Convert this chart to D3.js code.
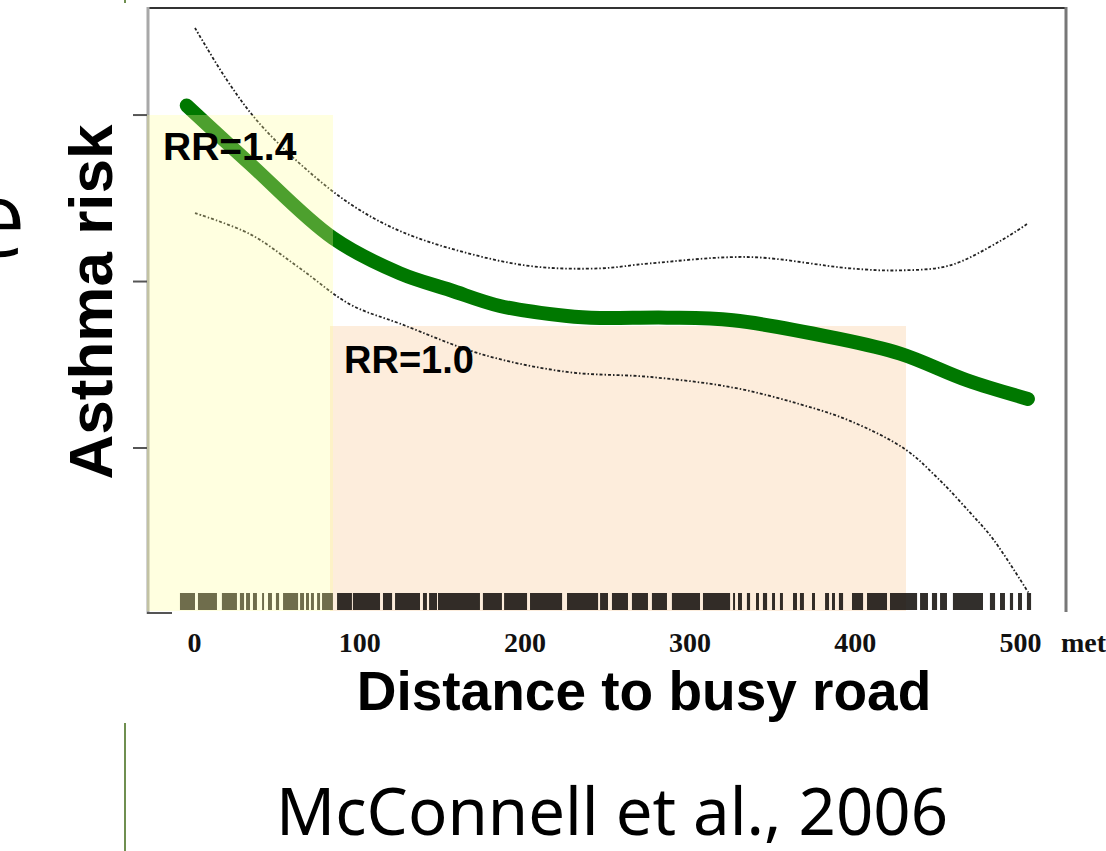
<!DOCTYPE html>
<html>
<head>
<meta charset="utf-8">
<script src="https://cdn.jsdelivr.net/npm/d3@7"></script>
<style>
body { margin: 0; background: #fff; }
svg { display: block; }
</style>
</head>
<body>
<svg width="1106" height="851"></svg>
<script>
var width = 1106;
var height = 851;

// distance to busy road (metres)
var xTicks = [0, 100, 200, 300, 400, 500];
var yTicks = [0.5, 1.0, 1.5];

// fitted asthma risk curve
var fitDist = [-4.4, 33.9, 84.1, 124.7, 155, 185.2, 225.8, 245.8, 286.3, 326.3, 386.8, 427.4, 467.9, 504.8];
var fitRisk = [1.527, 1.352, 1.129, 1.023, 0.973, 0.925, 0.895, 0.889, 0.890, 0.882, 0.830, 0.782, 0.702, 0.646];

// upper confidence band
var upperDist = [0.6, 20, 38.1, 64.2, 94.4, 124.7, 165.3, 205.2, 245.8, 276, 336.6, 397.1, 427.4, 457.6, 487.9, 504.2];
var upperRisk = [1.760, 1.603, 1.482, 1.352, 1.232, 1.150, 1.084, 1.044, 1.038, 1.053, 1.072, 1.038, 1.032, 1.047, 1.120, 1.171];

// lower confidence band
var lowerDist = [0.6, 33.9, 64.2, 94.4, 124.7, 174.9, 225.8, 276, 326.3, 366.8, 397.1, 430.4, 449.8, 469.7, 483.7, 506];
var lowerRisk = [1.204, 1.141, 1.038, 0.930, 0.872, 0.779, 0.727, 0.712, 0.680, 0.630, 0.580, 0.495, 0.410, 0.305, 0.225, 0.057];

// rug of observations: start / end of dense runs
var rugStart = [-8.5, 2.4, 16.9, 27.8, 31.5, 35.7, 41.2, 44.8, 49.6, 53.9, 64.2, 67.8, 70.8, 74.5, 77.5, 86.6, 96.2, 114.4, 121.7, 138.6, 142.3, 147.7, 174.9, 187.7, 203.4, 225.8, 245.8, 253, 265.1, 277.2, 289.3, 308.1, 326.3, 329.3, 334.7, 340.2, 344.4, 349.9, 354.7, 362.6, 366.8, 374.1, 382, 386.2, 390.4, 398.3, 407.4, 421.3, 439.5, 446.7, 451.6, 459.4, 481.8, 487.9, 493.9, 498.8, 504.2];
var rugEnd = [0.6, 13.9, 26, 30.3, 33.9, 38.1, 42.4, 47.2, 51.5, 63, 66.6, 69.6, 72.6, 76.3, 84.1, 95.6, 112.6, 119.9, 136.8, 141, 147.1, 173.1, 186.4, 201.6, 222.8, 244.6, 250.6, 262.7, 274.8, 286.3, 306.3, 324.5, 327.5, 331.7, 336.6, 342, 346.9, 351.7, 356.5, 365, 369.2, 375.9, 384.4, 388, 392.9, 405, 419.5, 437.7, 444.3, 449.8, 455.8, 477.6, 484.9, 490.9, 495.8, 501.2, 506.7];

// highlighted distance zones
var zoneLabels = ["RR=1.4", "RR=1.0"];

var canvas = d3.select("svg");

var x = d3.scaleLinear().domain([0, 500]).range([194, 1020]);
var y = d3.scaleLinear().domain([0, 1.82]).range([614, 8]);

var toPoints = function(xs, ys) {
	return xs.map(function(d, i) { return [d, ys[i]]; });
}

var line = d3.line()
	.x(function(d) { return x(d[0]); })
	.y(function(d) { return y(d[1]); })
	.curve(d3.curveCatmullRom.alpha(0.5));

// slide leftovers
canvas.append("text")
	.attr("x", 27).attr("y", 257)
	.attr("text-anchor", "end")
	.style("font-family", "Open Sans")
	.style("font-size", "108px")
	.style("stroke", "#fff")
	.style("stroke-width", 1.5)
	.text("e");

canvas.append("line")
	.attr("x1", 125).attr("x2", 125).attr("y1", 723).attr("y2", height)
	.style("stroke", "#6f8f50").style("stroke-width", 2);
canvas.append("line")
	.attr("x1", 125).attr("x2", 125).attr("y1", 0).attr("y2", 3)
	.style("stroke", "#6f8f50").style("stroke-width", 2);

// peach zone (100 - 430 m)
canvas.append("rect")
	.attr("x", 330).attr("y", 326)
	.attr("width", 906 - 330).attr("height", 611 - 326)
	.style("fill", "#fdeddc");

// rug
canvas.append("g").selectAll("rect")
	.data(rugStart)
	.enter()
	.append("rect")
	.attr("x", function(d) { return x(d); })
	.attr("y", 593)
	.attr("width", function(d, i) { return Math.max(1.5, x(rugEnd[i]) - x(d)); })
	.attr("height", 17)
	.style("fill", "#0b0703")
	.style("opacity", 0.84);

// confidence bands
canvas.append("path")
	.datum(toPoints(upperDist, upperRisk))
	.attr("d", line)
	.style("fill", "none")
	.style("stroke", "#222")
	.style("stroke-width", 1.8)
	.style("stroke-dasharray", "3,2,1.5,2");

canvas.append("path")
	.datum(toPoints(lowerDist, lowerRisk))
	.attr("d", line)
	.style("fill", "none")
	.style("stroke", "#222")
	.style("stroke-width", 1.8)
	.style("stroke-dasharray", "3,2,1.5,2");

// fitted curve
canvas.append("path")
	.datum(toPoints(fitDist, fitRisk))
	.attr("d", line)
	.style("fill", "none")
	.style("stroke", "#007800")
	.style("stroke-width", 14)
	.style("stroke-linecap", "round");

// frame
canvas.append("line")
	.attr("x1", 147).attr("x2", 1067).attr("y1", 8).attr("y2", 8)
	.style("stroke", "#333").style("stroke-width", 2);
canvas.append("line")
	.attr("x1", 148).attr("x2", 148).attr("y1", 7).attr("y2", 614)
	.style("stroke", "#a8a8a8").style("stroke-width", 3);
canvas.append("line")
	.attr("x1", 1066).attr("x2", 1066).attr("y1", 7).attr("y2", 612)
	.style("stroke", "#777").style("stroke-width", 3);
canvas.append("line")
	.attr("x1", 147).attr("x2", 172).attr("y1", 613).attr("y2", 613)
	.style("stroke", "#555").style("stroke-width", 2);

// y ticks (no labels)
var yAxis = canvas.append("g")
	.attr("transform", "translate(147,0)")
	.call(d3.axisLeft(y).tickValues(yTicks).tickSize(14).tickFormat(""));
yAxis.select(".domain").remove();
yAxis.selectAll(".tick line").style("stroke", "#555").style("stroke-width", 2);

// x tick labels
var xAxis = canvas.append("g")
	.attr("transform", "translate(0,624)")
	.call(d3.axisBottom(x).tickValues(xTicks).tickSize(0).tickPadding(0));
xAxis.select(".domain").remove();
xAxis.selectAll(".tick text")
	.attr("y", 28)
	.attr("dy", 0)
	.style("font-family", "Liberation Serif")
	.style("font-weight", "bold")
	.style("font-size", "28px")
	.style("fill", "#111");

canvas.append("text")
	.attr("x", 1061).attr("y", 652)
	.style("font-family", "Liberation Serif")
	.style("font-weight", "bold")
	.style("font-size", "28px")
	.style("fill", "#111")
	.text("meters");

// yellow zone (0 - 100 m), translucent over the curve
canvas.append("rect")
	.attr("x", 147).attr("y", 115)
	.attr("width", 333 - 147).attr("height", 611 - 115)
	.style("fill", "#ffff98")
	.style("opacity", 0.3);

// zone labels
canvas.append("text")
	.attr("x", 163).attr("y", 160)
	.style("font-family", "Liberation Sans")
	.style("font-weight", "bold")
	.style("font-size", "39px")
	.text(zoneLabels[0]);

canvas.append("text")
	.attr("x", 344).attr("y", 373)
	.style("font-family", "Liberation Sans")
	.style("font-weight", "bold")
	.style("font-size", "38px")
	.text(zoneLabels[1]);

// axis titles
canvas.append("text")
	.attr("transform", "translate(112,302) rotate(-90)")
	.attr("text-anchor", "middle")
	.style("font-family", "Liberation Sans")
	.style("font-weight", "bold")
	.style("font-size", "62px")
	.text("Asthma risk");

canvas.append("text")
	.attr("x", 644).attr("y", 710)
	.attr("text-anchor", "middle")
	.style("font-family", "Liberation Sans")
	.style("font-weight", "bold")
	.style("font-size", "55px")
	.text("Distance to busy road");

// citation
canvas.append("text")
	.attr("x", 276).attr("y", 835)
	.attr("textLength", 672)
	.attr("lengthAdjust", "spacingAndGlyphs")
	.style("font-family", "Noto Sans")
	.style("font-size", "66px")
	.text("McConnell et al., 2006");
</script>
</body>
</html>
